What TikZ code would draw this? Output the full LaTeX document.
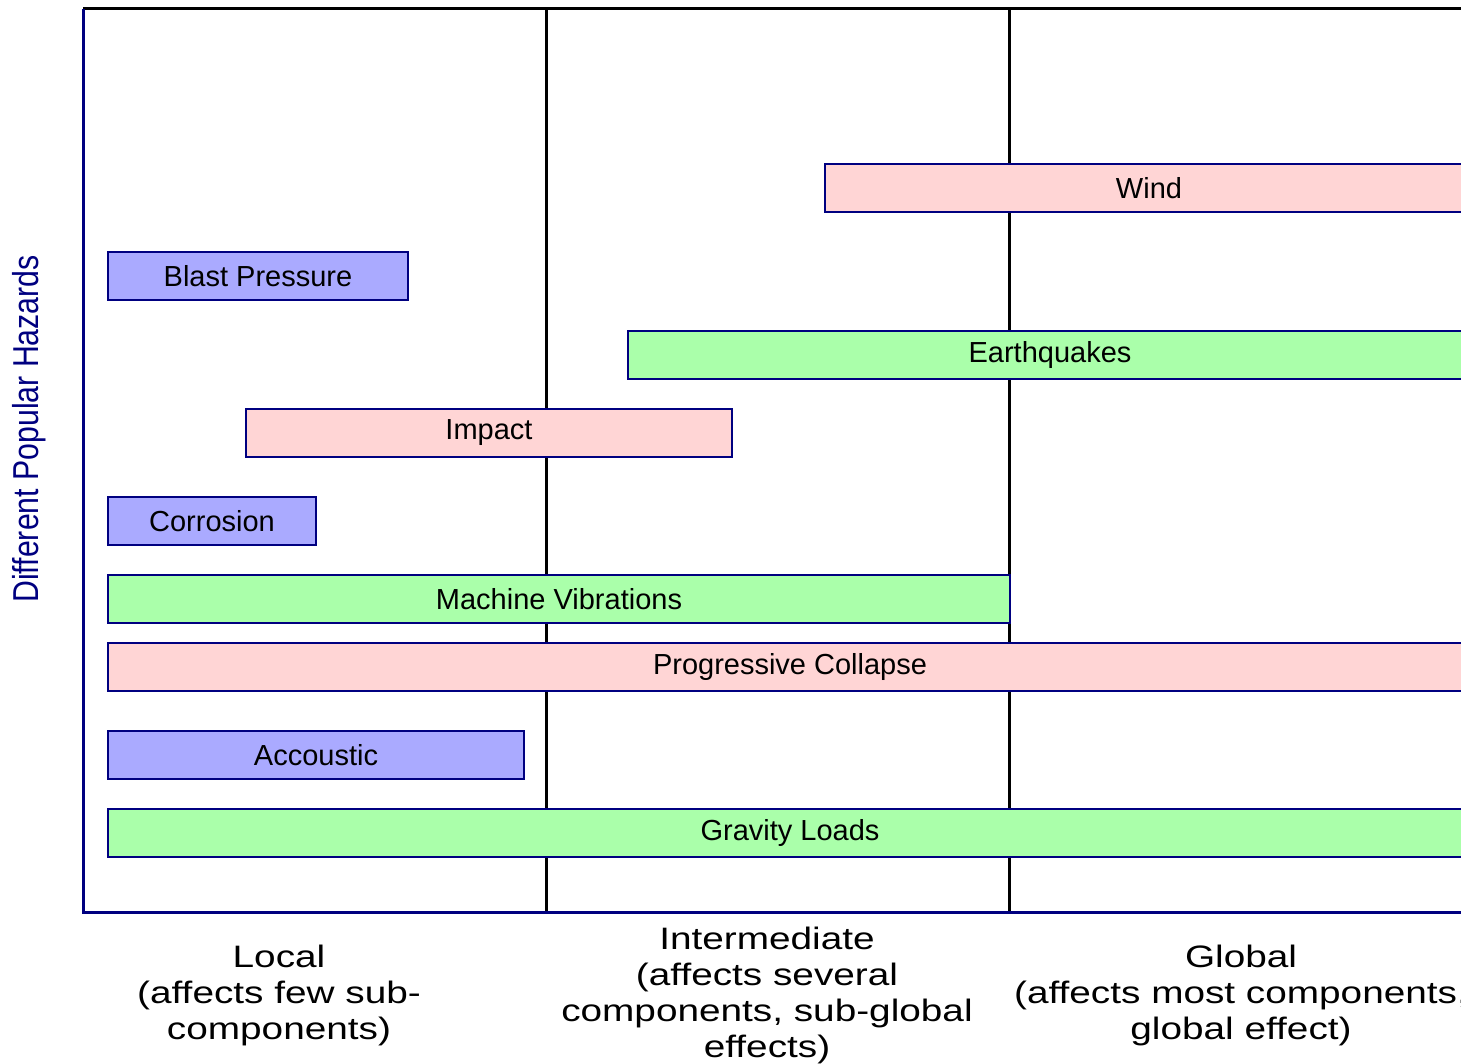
\documentclass[tikz,border=0pt]{standalone}
\usepackage{fontspec}
\setmainfont{Liberation Sans}
\definecolor{axisnavy}{HTML}{000080}
\definecolor{hblue}{HTML}{AAAAFF}
\definecolor{hpink}{HTML}{FFD5D5}
\definecolor{hgreen}{HTML}{AAFFAA}
\newcommand{\catbox}[1]{\scalebox{1.25}[1]{\fontsize{31}{36}\selectfont\begin{tabular}{@{}c@{}}#1\end{tabular}}}
\begin{document}
\begin{tikzpicture}[x=1pt,y=-1pt,
  hazard/.style={draw=axisnavy, line width=2pt, minimum height=48pt, inner sep=0pt,
    anchor=west, text=black, font=\fontsize{29}{31}\selectfont},
  blue hazard/.style={hazard, fill=hblue},
  pink hazard/.style={hazard, fill=hpink},
  green hazard/.style={hazard, fill=hgreen},
  divider/.style={draw=black, line width=3pt},
  axisline/.style={draw=axisnavy, line width=3pt},
  catlabel/.style={inner sep=0pt, text=black},
  ylabel/.style={rotate=90, text=axisnavy, font=\fontsize{36}{40}\selectfont}]
\useasboundingbox (0,0) rectangle (1461,1064);
\clip (0,0) rectangle (1461,1064);
\fill[white] (0,0) rectangle (1461,1064);
% frame coordinates
\coordinate (tl) at (83,9);
\coordinate (tr) at (1480,9);
\coordinate (bl) at (83,912);
\coordinate (br) at (1480,912);
\coordinate (d1t) at (546,9);
\coordinate (d1b) at (546,912);
\coordinate (d2t) at (1009,9);
\coordinate (d2b) at (1009,912);
% dividers
\draw[divider] (d1t) -- (d1b);
\draw[divider] (d2t) -- (d2b);
\draw[divider] (tl) -- (tr);
% bars
\node[pink hazard, minimum width=648pt] (wind) at (824,188.5) {Wind};
\node[blue hazard, minimum width=300pt] (blast) at (107,276.5) {Blast Pressure};
\node[green hazard, minimum width=844pt] (quake) at (627,355) {Earthquakes};
\node[pink hazard, minimum width=486pt] (impact) at (245,433) {Impact};
\node[blue hazard, minimum width=208pt] (corr) at (107,521) {Corrosion};
\node[green hazard, minimum width=902pt] (mach) at (107,599) {Machine Vibrations};
\node[pink hazard, minimum width=1364pt] (prog) at (107,667) {Progressive Collapse};
\node[blue hazard, minimum width=416pt] (acc) at (107,755) {Accoustic};
\node[green hazard, minimum width=1364pt] (grav) at (107,833) {Gravity Loads};
% axes
\draw[axisline] (tl) -- (bl) -- (br);
% labels
\node[ylabel] (ylab) at (29,429) {\scalebox{0.84}[1]{Different Popular Hazards}};
\node[catlabel] (local) at (279,996) {\catbox{Local\\(affects few sub-\\components)}};
\node[catlabel] (inter) at (767,996) {\catbox{Intermediate\\(affects several\\components, sub-global\\effects)}};
\node[catlabel] (global) at (1241,996) {\catbox{Global\\(affects most components,\\global effect)}};
\end{tikzpicture}
\end{document}
